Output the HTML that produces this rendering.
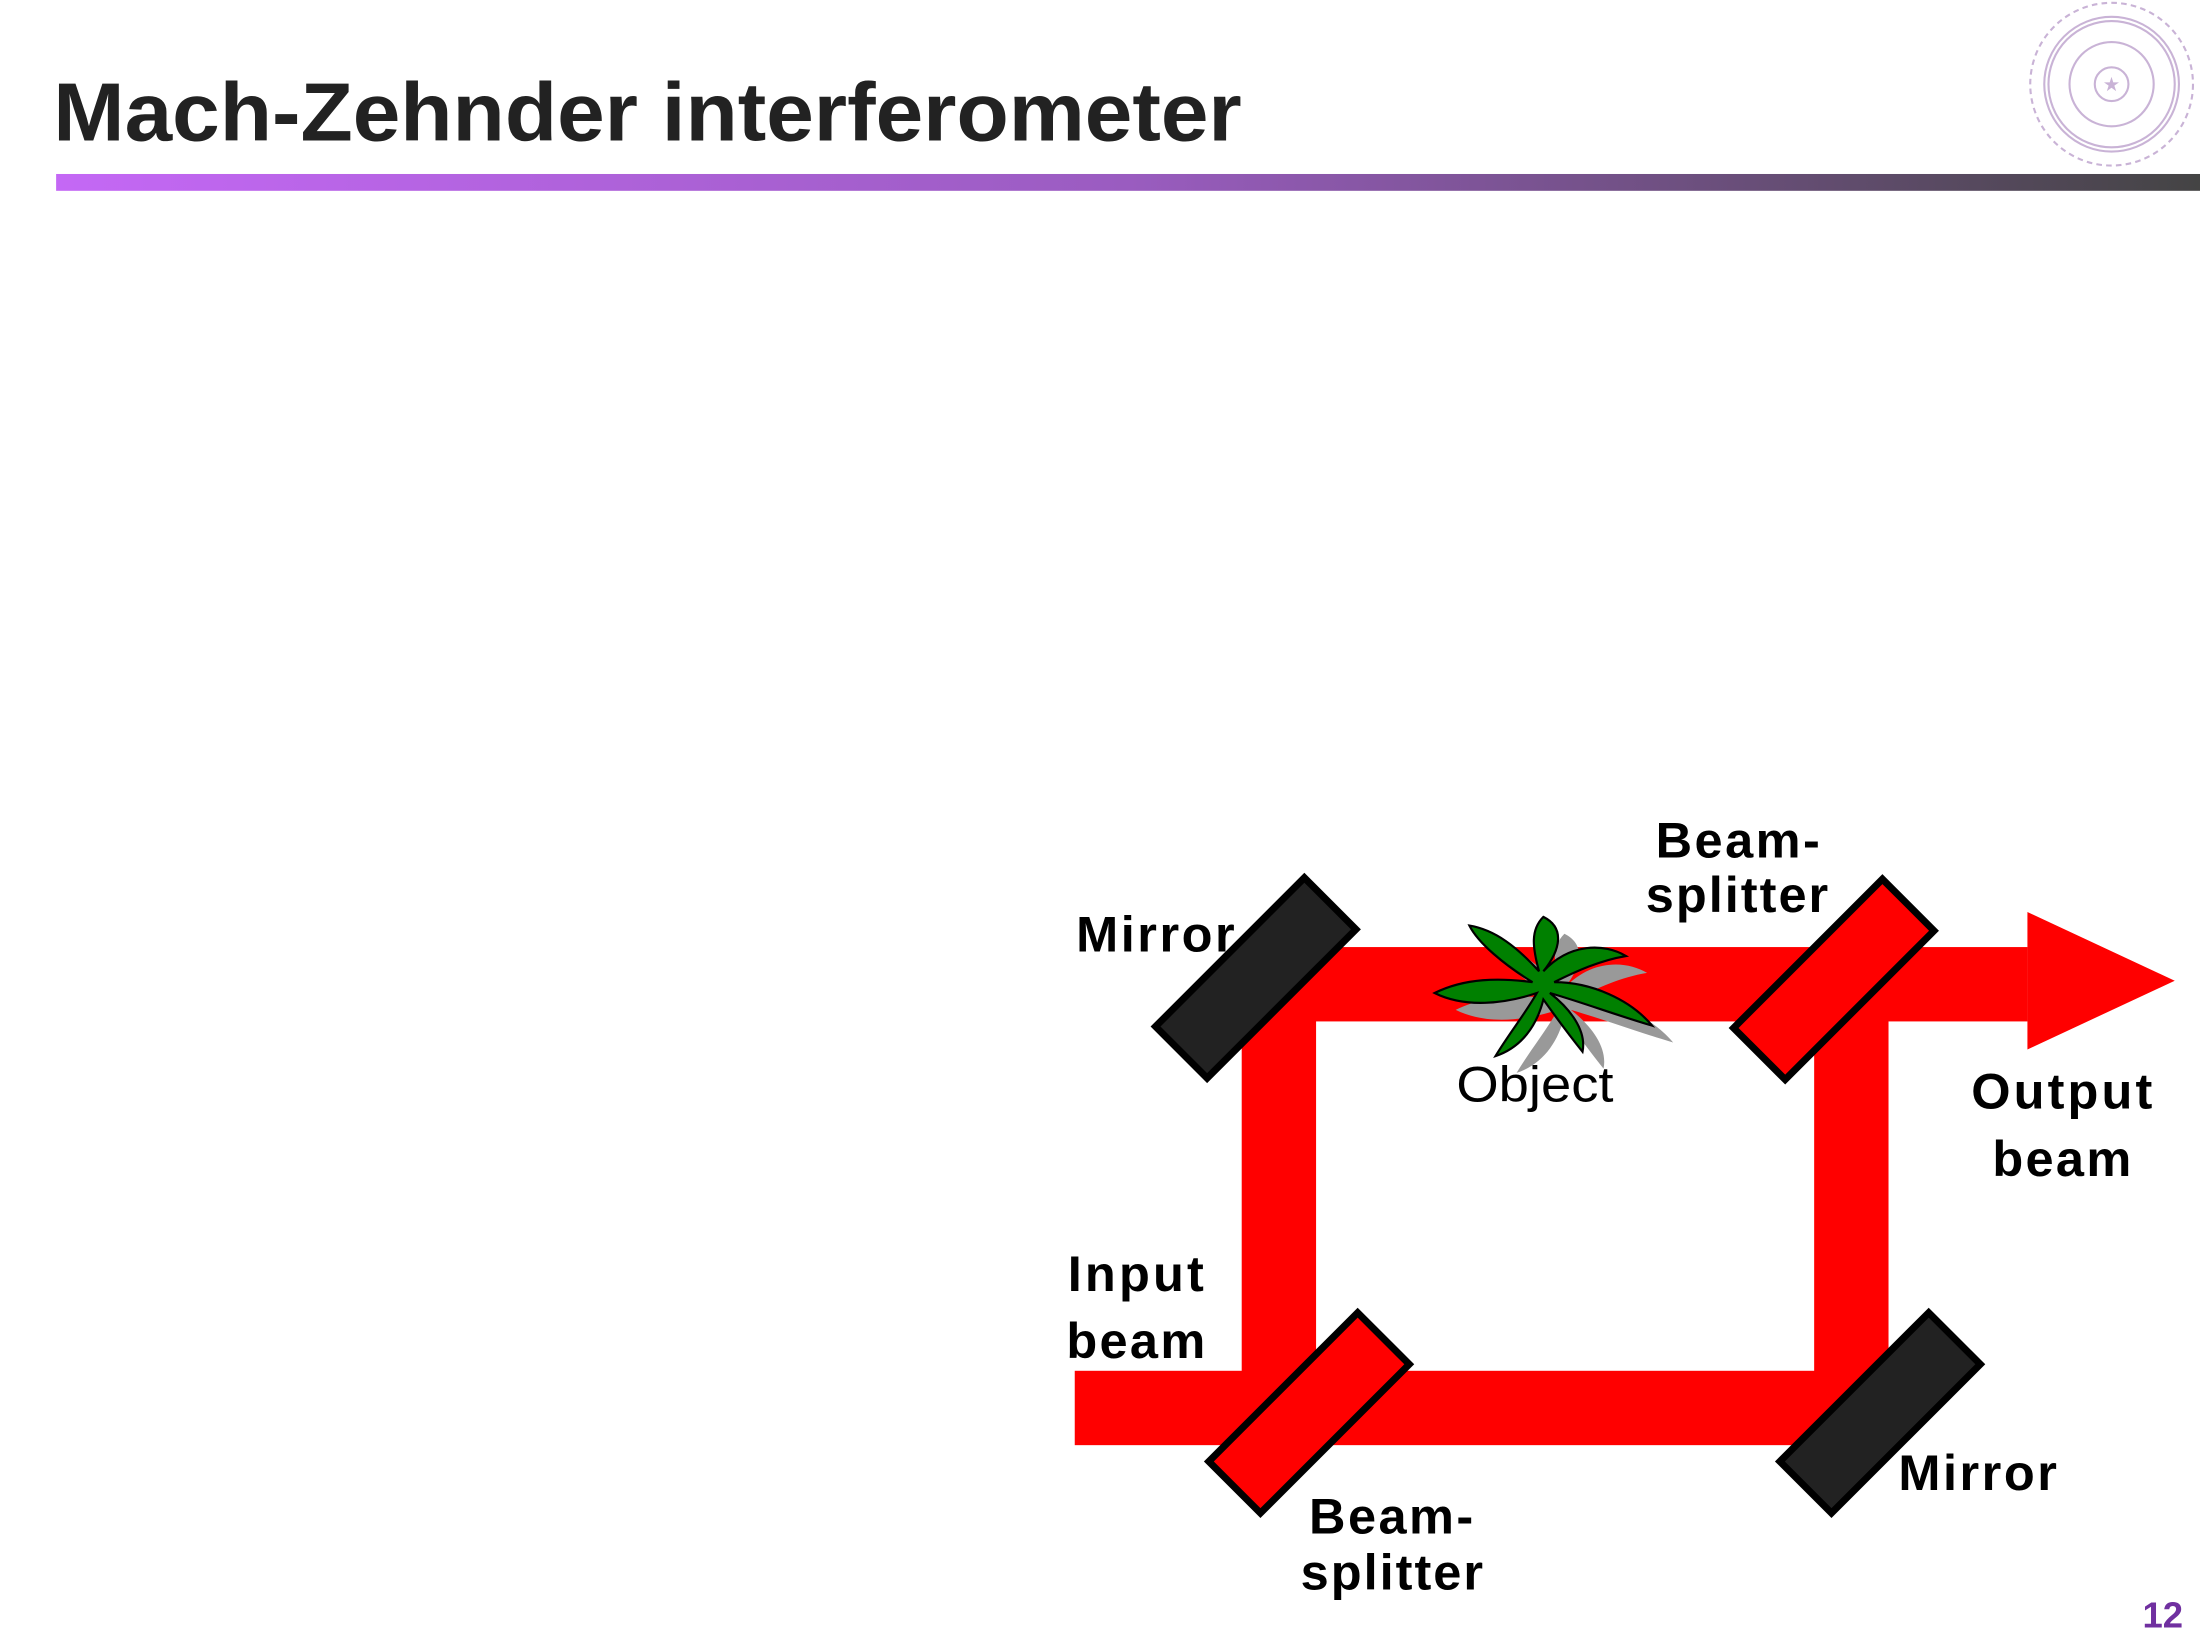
<!DOCTYPE html>
<html><head><meta charset="utf-8"><style>html,body{margin:0;padding:0;background:#fff}svg{display:block}</style></head>
<body>
<svg width="2200" height="1650" viewBox="0 0 1568 1176" preserveAspectRatio="none" xmlns="http://www.w3.org/2000/svg" font-family="Liberation Sans, Arial, sans-serif">
<defs><linearGradient id="g" x1="0" x2="1"><stop offset="0" stop-color="#c468f5"/><stop offset="0.5" stop-color="#9a5cc0"/><stop offset="1" stop-color="#444"/></linearGradient></defs>
<text x="38" y="100" font-size="59" font-weight="bold" fill="#222" textLength="847" lengthAdjust="spacingAndGlyphs">Mach-Zehnder interferometer</text>
<rect x="40" y="124" width="1528" height="12" fill="url(#g)"/>
<g fill="none" stroke="#c9b3d6" stroke-width="1.5">
<circle cx="1505" cy="60" r="58" stroke-dasharray="4 3"/>
<circle cx="1505" cy="60" r="48"/><circle cx="1505" cy="60" r="45"/>
<circle cx="1505" cy="60" r="30"/><circle cx="1505" cy="60" r="12"/>
</g>
<text x="1505" y="65" font-size="14" text-anchor="middle" fill="#c9b3d6">★</text>
<g fill="#ff0000">
<rect x="766" y="977" width="580" height="53"/>
<rect x="885" y="675" width="53" height="355"/>
<rect x="1293" y="675" width="53" height="355"/>
<rect x="885" y="675" width="560" height="53"/>
<polygon points="1445,650 1550,699 1445,748"/>
</g>
<g transform="translate(1115,712) scale(1.55)" fill="#999">
<path d="M0,-30 C10,-25 8,-15 0,-5 C12,-18 28,-18 38,-12 C26,-10 15,-5 5,0 C22,0 40,8 50,20 C33,15 20,10 3,5 C12,12 20,22 18,32 C10,22 5,15 0,8 C-3,20 -10,30 -22,34 C-16,24 -8,14 -3,5 C-18,10 -36,12 -50,5 C-36,-2 -20,-2 -5,0 C-18,-8 -30,-18 -34,-26 C-22,-24 -12,-16 -2,-5 C-5,-16 -6,-24 0,-30Z"/>
</g>
<g transform="translate(1100,700) scale(1.55)" fill="#008000" stroke="#000" stroke-width="1">
<path d="M0,-30 C10,-25 8,-15 0,-5 C12,-18 28,-18 38,-12 C26,-10 15,-5 5,0 C22,0 40,8 50,20 C33,15 20,10 3,5 C12,12 20,22 18,32 C10,22 5,15 0,8 C-3,20 -10,30 -22,34 C-16,24 -8,14 -3,5 C-18,10 -36,12 -50,5 C-36,-2 -20,-2 -5,0 C-18,-8 -30,-18 -34,-26 C-22,-24 -12,-16 -2,-5 C-5,-16 -6,-24 0,-30Z"/>
</g>
<g stroke="#000" stroke-width="5">
<rect x="-75" y="-26" width="150" height="52" fill="#222" transform="translate(895,697) rotate(-45)"/>
<rect x="-75" y="-26" width="150" height="52" fill="#ff0000" transform="translate(1307,698) rotate(-45)"/>
<rect x="-75" y="-26" width="150" height="52" fill="#ff0000" transform="translate(933,1007) rotate(-45)"/>
<rect x="-75" y="-26" width="150" height="52" fill="#222" transform="translate(1340,1007) rotate(-45)"/>
</g>
<g font-size="36" font-weight="bold" fill="#000" lengthAdjust="spacingAndGlyphs">
<text x="767" y="678" textLength="113">Mirror</text>
<text x="1180" y="611" textLength="117">Beam-</text>
<text x="1173" y="650" textLength="130">splitter</text>
<text x="1405" y="790" textLength="129">Output</text>
<text x="1420" y="838" textLength="99">beam</text>
<text x="761" y="920" textLength="97">Input</text>
<text x="760" y="968" textLength="99">beam</text>
<text x="1353" y="1062" textLength="113">Mirror</text>
<text x="933" y="1093" textLength="117">Beam-</text>
<text x="927" y="1133" textLength="130">splitter</text>
</g>
<text x="1038" y="785" font-size="36" fill="#000" textLength="112" lengthAdjust="spacingAndGlyphs">Object</text>
<text x="1527" y="1160" font-size="26" font-weight="bold" fill="#7030a0">12</text>
</svg>
</body></html>
